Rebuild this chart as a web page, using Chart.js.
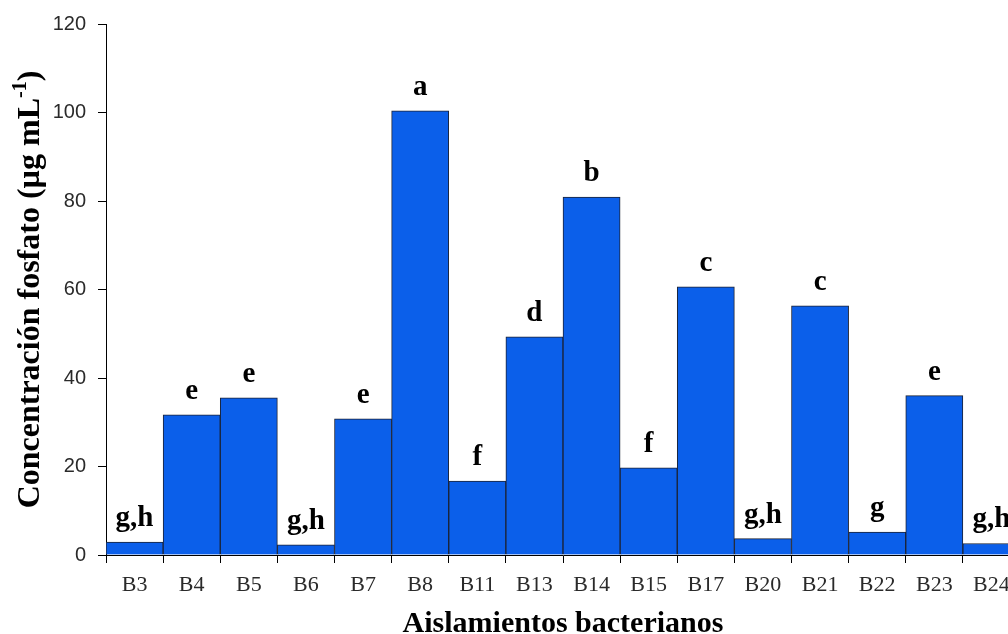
<!DOCTYPE html>
<html>
<head>
<meta charset="utf-8">
<script src="https://cdn.jsdelivr.net/npm/chart.js@4.4.0/dist/chart.umd.min.js"></script>
<style>
  html, body { margin: 0; padding: 0; background: #fff; overflow: hidden; }
  #wrap { width: 1020px; height: 634px; }
</style>
</head>
<body>
<div id="wrap"><canvas id="myChart" width="1020" height="634"></canvas></div>
<script>
// Isolates and phosphate concentration (ug/mL)
const isolates = ["B3", "B4", "B5", "B6", "B7", "B8", "B11", "B13", "B14", "B15", "B17", "B20", "B21", "B22", "B23", "B24"];
const phosphate = [2.9, 31.7, 35.5, 2.3, 30.8, 100.4, 16.7, 49.3, 80.9, 19.7, 60.6, 3.7, 56.3, 5.2, 36.0, 2.6];
// Significance letters over each bar
const groups = ["g,h", "e", "e", "g,h", "e", "a", "f", "d", "b", "f", "c", "g,h", "c", "g", "e", "g,h"];
const yTicks = [0, 20, 40, 60, 80, 100, 120];

const serif = "'Liberation Serif', 'Times New Roman', serif";

// Draws the letters above the bars and both axis titles
const labelsPlugin = {
    id: "labels",
    afterDraw(chart) {
        const ctx = chart.ctx;
        const meta = chart.getDatasetMeta(0);
        const area = chart.chartArea;

        ctx.save();
        ctx.fillStyle = "#000";
        ctx.textAlign = "center";
        ctx.textBaseline = "alphabetic";
        ctx.font = "bold 29px " + serif;
        meta.data.forEach((bar, i) => {
            ctx.fillText(groups[i], bar.x, bar.y - 16);
        });

        // x title
        ctx.font = "bold 30px " + serif;
        ctx.fillText("Aislamientos bacterianos", (area.left + area.right) / 2, 632);

        // y title with superscript
        const main = "Concentración fosfato (µg mL";
        const sup = "-1";
        const end = ")";
        ctx.font = "bold 32px " + serif;
        const w1 = ctx.measureText(main).width;
        const w3 = ctx.measureText(end).width;
        ctx.font = "bold 20px " + serif;
        const w2 = ctx.measureText(sup).width;
        const total = w1 + w2 + w3;

        ctx.translate(39, (area.top + area.bottom) / 2);
        ctx.rotate(-Math.PI / 2);
        ctx.textAlign = "left";
        let x = -total / 2;
        ctx.font = "bold 32px " + serif;
        ctx.fillText(main, x, 0);
        x += w1;
        ctx.font = "bold 20px " + serif;
        ctx.fillText(sup, x, -13);
        x += w2;
        ctx.font = "bold 32px " + serif;
        ctx.fillText(end, x, 0);
        ctx.restore();
    }
};

const chartData = {
    labels: isolates,
    datasets: [{
        data: phosphate,
        backgroundColor: "#0b5fea",
        borderColor: "#1c2233",
        borderWidth: 1,
        barPercentage: 1,
        categoryPercentage: 1
    }]
};

const config = {
    type: "bar",
    data: chartData,
    options: {
        responsive: false,
        animation: false,
        devicePixelRatio: 1,
        layout: { padding: { top: 24, left: 0, right: 0, bottom: 0 } },
        plugins: {
            legend: { display: false },
            tooltip: { enabled: false }
        },
        scales: {
            x: {
                grid: {
                    offset: true,
                    drawOnChartArea: false,
                    drawTicks: true,
                    tickLength: 8,
                    color: "#000"
                },
                border: { display: true, color: "#000", width: 1 },
                ticks: {
                    color: "#2a2a2a",
                    font: { family: serif, size: 22 },
                    padding: 9,
                    maxRotation: 0,
                    autoSkip: false
                },
                afterFit(scale) { scale.height = 79; }
            },
            y: {
                min: 0,
                max: 120,
                afterBuildTicks(scale) {
                    scale.ticks = yTicks.map(v => ({ value: v }));
                },
                grid: {
                    drawOnChartArea: false,
                    drawTicks: true,
                    tickLength: 8,
                    color: "#000"
                },
                border: { display: true, color: "#000", width: 1 },
                ticks: {
                    color: "#2a2a2a",
                    font: { family: "'Liberation Sans', Arial, sans-serif", size: 20 },
                    padding: 12
                },
                afterFit(scale) { scale.width = 106; }
            }
        }
    },
    plugins: [labelsPlugin]
};

var myChart = new Chart(document.getElementById("myChart"), config);
</script>
</body>
</html>
